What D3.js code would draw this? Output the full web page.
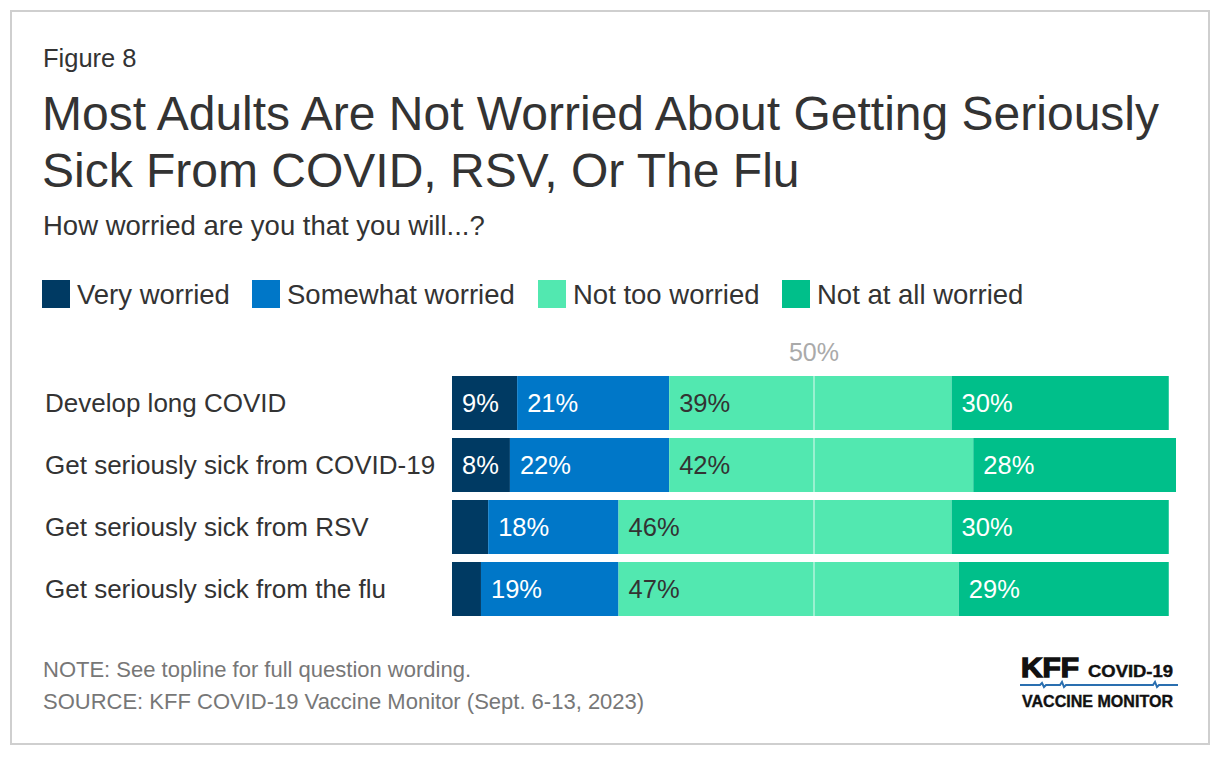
<!DOCTYPE html>
<html><head><meta charset="utf-8">
<script src="https://cdn.jsdelivr.net/npm/d3@7"></script>
<style>
html,body{margin:0;padding:0;background:#fff;}
text{font-family:"Liberation Sans",Arial,sans-serif;}
</style></head>
<body>
<svg id="chart" width="1220" height="758"></svg>
<script>
const categories = ["Develop long COVID","Get seriously sick from COVID-19","Get seriously sick from RSV","Get seriously sick from the flu"];
const seriesNames = ["Very worried","Somewhat worried","Not too worried","Not at all worried"];
const veryWorried = [9, 8, 5, 4];
const somewhatWorried = [21, 22, 18, 19];
const notTooWorried = [39, 42, 46, 47];
const notAtAllWorried = [30, 28, 30, 29];
// label visibility per series (rows = series, cols = categories)
const showLabel = [[true,true,false,false],[true,true,true,true],[true,true,true,true],[true,true,true,true]];
const colors = ["#003a63","#0077c8","#52e8b0","#00bf8a"];
const labelColors = ["#fff","#fff","#333","#fff"];
const refTick = [50];

const svg = d3.select("#chart");
svg.append("rect").attr("x",11).attr("y",11).attr("width",1198).attr("height",733)
  .attr("fill","#fff").attr("stroke","#cfcfcf").attr("stroke-width",2);

svg.append("text").attr("x",43).attr("y",67).attr("font-size",25.5).attr("fill","#333").text("Figure 8");
svg.append("text").attr("x",42).attr("y",130).attr("font-size",48).attr("fill","#333").text("Most Adults Are Not Worried About Getting Seriously");
svg.append("text").attr("x",42).attr("y",187).attr("font-size",48).attr("fill","#333").text("Sick From COVID, RSV, Or The Flu");
svg.append("text").attr("x",43).attr("y",235).attr("font-size",27.5).attr("fill","#333").text("How worried are you that you will...?");

// legend
const legendX = [42, 252, 538, 782];
seriesNames.forEach((s,i)=>{
  svg.append("rect").attr("x",legendX[i]).attr("y",280).attr("width",28).attr("height",28).attr("fill",colors[i]);
  svg.append("text").attr("x",legendX[i]+35).attr("y",304).attr("font-size",27.5).attr("fill","#333").text(s);
});

const data = categories.map((c,i)=>({cat:c, vals:[veryWorried[i],somewhatWorried[i],notTooWorried[i],notAtAllWorried[i]]}));
const x = d3.scaleLinear().domain([0,100]).range([452,1176]);
const y = d3.scaleBand().domain(categories).range([372,620]).paddingInner(8/62).paddingOuter(4/62);

const stack = d3.stack().keys([0,1,2,3]).value((d,k)=>d.vals[k]);
const series = stack(data);

series.forEach((ser,k)=>{
  svg.append("g").selectAll("rect").data(ser).join("rect")
    .attr("x",d=>x(d[0])).attr("width",d=>x(d[1])-x(d[0]))
    .attr("y",d=>y(d.data.cat)).attr("height",y.bandwidth())
    .attr("fill",colors[k]);
});

// reference line at 50%
refTick.forEach(t=>{
  data.forEach(d=>{
    svg.append("line").attr("x1",x(t)).attr("x2",x(t))
      .attr("y1",y(d.cat)).attr("y2",y(d.cat)+y.bandwidth())
      .attr("stroke","#ffffff").attr("stroke-opacity",0.55).attr("stroke-width",1.5);
  });
  svg.append("text").attr("x",x(t)).attr("y",361).attr("text-anchor","middle")
    .attr("font-size",25).attr("fill","#aaa").text(t+"%");
});

series.forEach((ser,k)=>{
  svg.append("g").selectAll("text").data(ser.filter((d,i)=>showLabel[k][i])).join("text")
    .attr("x",d=>x(d[0])+10).attr("y",d=>y(d.data.cat)+y.bandwidth()/2+9)
    .attr("font-size",25.5).attr("fill",labelColors[k])
    .text(d=>(d[1]-d[0])+"%");
});

// category labels
svg.append("g").selectAll("text").data(categories).join("text")
  .attr("x",45).attr("y",c=>y(c)+y.bandwidth()/2+9)
  .attr("font-size",26).attr("fill","#333").text(c=>c);

// footer
svg.append("text").attr("x",43).attr("y",677).attr("font-size",22).attr("fill","#777").text("NOTE: See topline for full question wording.");
svg.append("text").attr("x",43).attr("y",709).attr("font-size",22).attr("fill","#777").text("SOURCE: KFF COVID-19 Vaccine Monitor (Sept. 6-13, 2023)");

// logo
const lg = svg.append("g");
lg.append("text").attr("x",1021).attr("y",677).attr("font-size",28).attr("font-weight","bold")
  .attr("font-family","'DejaVu Sans','Liberation Sans',sans-serif").attr("fill","#111")
  .attr("stroke","#111").attr("stroke-width",1.4)
  .attr("textLength",58).attr("lengthAdjust","spacingAndGlyphs").text("KFF");
lg.append("text").attr("x",1088).attr("y",677).attr("font-size",16).attr("font-weight","bold")
  .attr("font-family","'Open Sans','DejaVu Sans',sans-serif").attr("fill","#111")
  .attr("stroke","#111").attr("stroke-width",0.4)
  .attr("textLength",85).attr("lengthAdjust","spacingAndGlyphs").text("COVID-19");
lg.append("path").attr("d","M1020,685 L1040,685 l2,-2 l2,4 l2,-2 L1060,685 l2,-3 l2,5 l2,-2 L1153,685 l2,-3 l2,5 l2,-2 L1178,685")
  .attr("fill","none").attr("stroke","#2a6fb0").attr("stroke-width",2);
lg.append("text").attr("x",1022).attr("y",707).attr("font-size",16.5).attr("font-weight","bold")
  .attr("font-family","'Open Sans','DejaVu Sans',sans-serif").attr("fill","#111")
  .attr("stroke","#111").attr("stroke-width",0.4)
  .attr("textLength",151).attr("lengthAdjust","spacingAndGlyphs").text("VACCINE MONITOR");
</script>
</body></html>
